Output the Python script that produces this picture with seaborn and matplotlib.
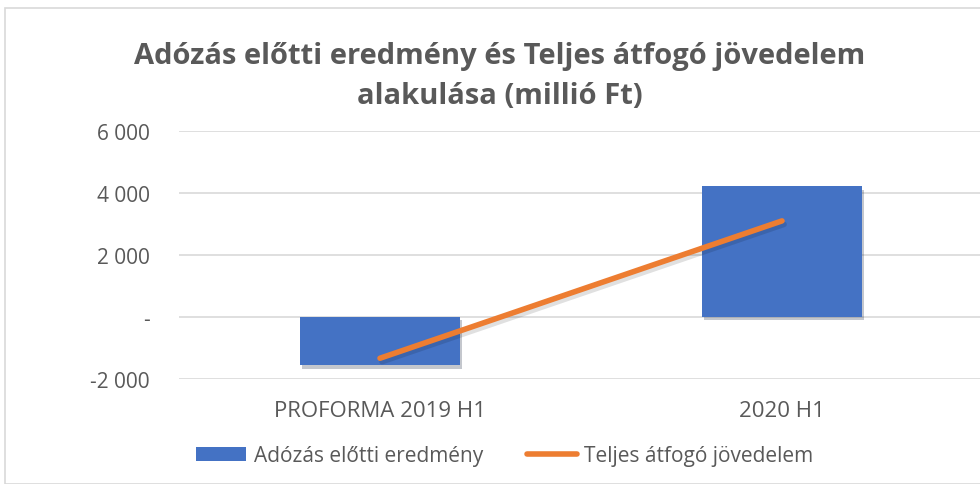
import numpy as np
import pandas as pd
import matplotlib
matplotlib.use("Agg")
import matplotlib.pyplot as plt
import matplotlib.patheffects as pe
from matplotlib.patches import Rectangle
from matplotlib.lines import Line2D
from matplotlib.patches import Patch
import seaborn as sns

categories = ["PROFORMA 2019 H1", "2020 H1"]
adozas_elotti = [-1560, 4220]
teljes_atfogo = [-1330, 3100]
yticks = [-2000, 0, 2000, 4000, 6000]
ytick_labels = ["-2 000", "-", "2 000", "4 000", "6 000"]

bar_color = "#4472C4"
line_color = "#ED7D31"
text_color = "#595959"

sns.set_style("white")
plt.rcParams["font.family"] = ["Open Sans", "DejaVu Sans"]

df = pd.DataFrame({"kat": categories, "adozas": adozas_elotti, "teljes": teljes_atfogo})

fig = plt.figure(figsize=(9.8, 4.85), dpi=100)
ax = fig.add_axes([179 / 980, 105 / 485, 804 / 980, 248 / 485])

# outer chart frame (as in the Excel export)
fig.patches.append(Rectangle((5 / 980, 0), 1.2, (485 - 9) / 485, transform=fig.transFigure,
                             fill=False, edgecolor="#d9d9d9", linewidth=1.2))

sns.barplot(data=df, x="kat", y="adozas", color=bar_color, width=0.4, saturation=1,
            linewidth=0, ax=ax, zorder=3)
for bar in ax.patches:
    bar.set_path_effects([pe.SimplePatchShadow(offset=(1.5, -2.5), alpha=0.25), pe.Normal()])

sns.lineplot(data=df, x="kat", y="teljes", color=line_color, linewidth=4, ax=ax, zorder=4,
             solid_capstyle="round",
             path_effects=[pe.SimpleLineShadow(offset=(1.5, -2.5), alpha=0.12), pe.Normal()])

ax.set_xlim(-0.5, 1.5)
ax.set_ylim(-2000, 6000)
ax.set_yticks(yticks)
ax.set_yticklabels(ytick_labels)
ax.yaxis.grid(True, color="#d9d9d9", linewidth=1.2, zorder=0)
ax.set_axisbelow(True)
for s in ax.spines.values():
    s.set_visible(False)
ax.tick_params(axis="y", length=0, pad=21, labelsize=15, labelcolor=text_color)
ax.tick_params(axis="x", length=0, pad=15, labelsize=16, labelcolor=text_color)
ax.set_xlabel("")
ax.set_ylabel("")

fig.text(0.51, 0.842, "Adózás előtti eredmény és Teljes átfogó jövedelem\nalakulása (millió Ft)",
         ha="center", va="center", fontsize=21, fontweight="bold", color=text_color,
         linespacing=1.5)

handles = [Patch(facecolor=bar_color, edgecolor="none"),
           Line2D([0], [0], color=line_color, linewidth=4, solid_capstyle="round")]
fig.legend(handles, ["Adózás előtti eredmény", "Teljes átfogó jövedelem"],
           loc="center", bbox_to_anchor=(0.515, 0.058), ncol=2, frameon=False,
           fontsize=15, labelcolor=text_color, handlelength=2.4, handletextpad=0.35,
           columnspacing=2.1)

fig.savefig("out.png", dpi=100)
